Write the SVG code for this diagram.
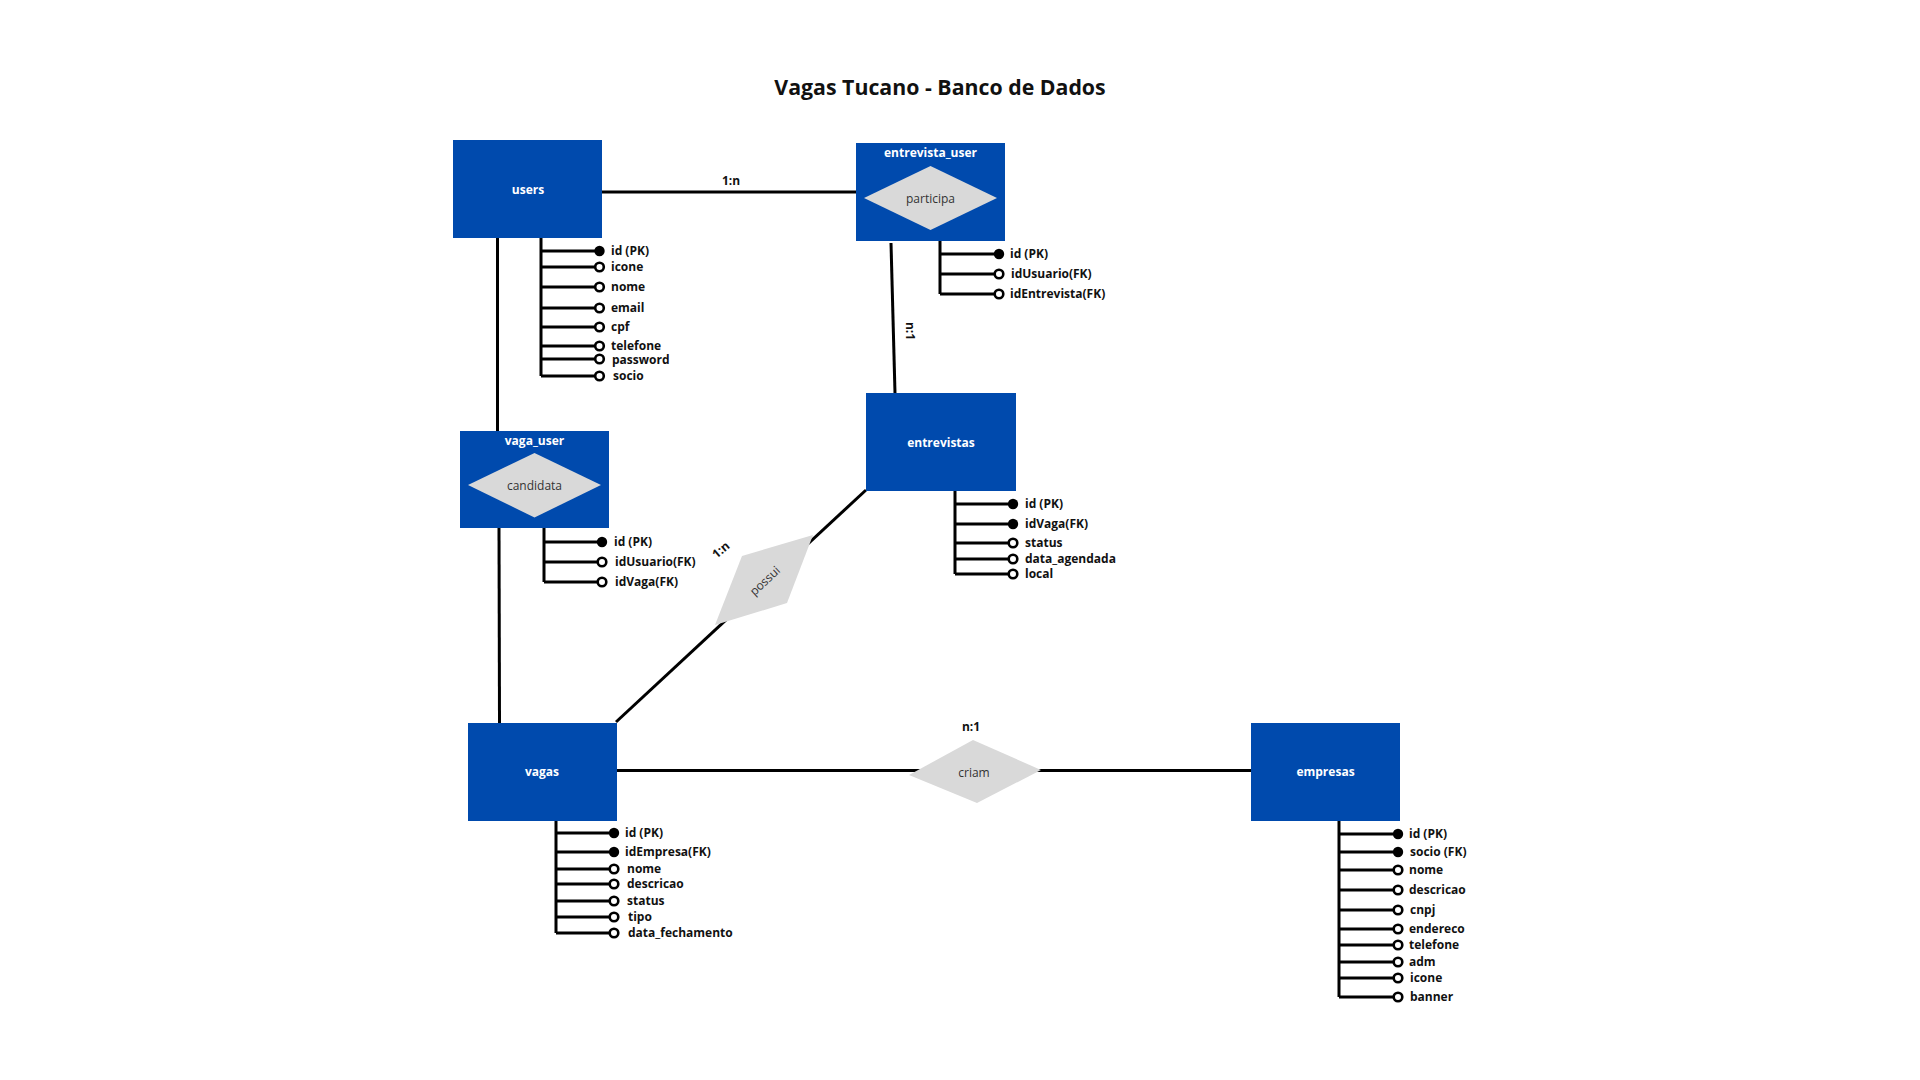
<svg xmlns="http://www.w3.org/2000/svg" width="1920" height="1080" viewBox="0 0 1920 1080">
<style>
.bg{fill:#ffffff}
.ent{fill:#004AAD}
.dia{fill:#D9D9D9}
.lbl{font-family:"Open Sans","Noto Sans","Liberation Sans",sans-serif;font-size:12px;font-weight:bold;fill:#ffffff;text-anchor:middle}
.dtx{font-family:"Open Sans","Noto Sans","Liberation Sans",sans-serif;font-size:12px;fill:#333333;text-anchor:middle}
.att{font-family:"Open Sans","Noto Sans","Liberation Sans",sans-serif;font-size:12px;font-weight:bold;fill:#111111}
.card{font-family:"Open Sans","Noto Sans","Liberation Sans",sans-serif;font-size:12px;font-weight:bold;fill:#111111;text-anchor:middle}
.title{font-family:"Open Sans","Noto Sans","Liberation Sans",sans-serif;font-size:21.3px;font-weight:bold;fill:#111111;text-anchor:middle}
.ln{stroke:#000000;stroke-width:3;fill:none}
.pk{fill:#000000}
.op{fill:#ffffff;stroke:#000000;stroke-width:2.6}
</style>
<rect class="bg" x="0" y="0" width="1920" height="1080"/>
<text class="title" x="940" y="95">Vagas Tucano - Banco de Dados</text>

<g id="connectors">
  <line class="ln" x1="602" y1="192" x2="856" y2="192"/>
  <line class="ln" x1="891" y1="243" x2="895" y2="393"/>
  <line class="ln" x1="497.5" y1="238" x2="497.5" y2="431"/>
  <line class="ln" x1="499" y1="528" x2="499.5" y2="723"/>
  <line class="ln" x1="866" y1="490" x2="616" y2="722"/>
  <line class="ln" x1="617" y1="770.5" x2="1251" y2="770.5"/>
  <text class="card" x="731" y="185">1:n</text>
  <text class="card" transform="translate(910 331) rotate(90)" x="0" y="4">n:1</text>
  <text class="card" transform="translate(721 550) rotate(-40)" x="0" y="4">1:n</text>
  <text class="card" x="971" y="731">n:1</text>
</g>

<g id="rel-possui">
  <polygon class="dia" points="813,535 787,603 715,625 742,556"/>
  <text class="dtx" transform="translate(765 581) rotate(-43)" x="0" y="4">possui</text>
</g>

<g id="rel-criam">
  <polygon class="dia" points="973,740 1041,770 977,803 909,775"/>
  <text class="dtx" x="974" y="777">criam</text>
</g>

<g id="users">
  <rect class="ent" x="453" y="140" width="149" height="98"/>
  <text class="lbl" x="528" y="194">users</text>
  <g class="attrs">
    <path class="ln" d="M541 238V376M541 251H595M541 267H595M541 287H595M541 308H595M541 327H595M541 346H595M541 359H595M541 376H595"/>
    <circle class="pk" cx="599.5" cy="251" r="5.2"/>
    <circle class="op" cx="599.5" cy="267" r="4.3"/>
    <circle class="op" cx="599.5" cy="287" r="4.3"/>
    <circle class="op" cx="599.5" cy="308" r="4.3"/>
    <circle class="op" cx="599.5" cy="327" r="4.3"/>
    <circle class="op" cx="599.5" cy="346" r="4.3"/>
    <circle class="op" cx="599.5" cy="359" r="4.3"/>
    <circle class="op" cx="599.5" cy="376" r="4.3"/>
    <text class="att" x="611" y="255">id (PK)</text>
    <text class="att" x="611" y="271">icone</text>
    <text class="att" x="611" y="291">nome</text>
    <text class="att" x="611" y="312">email</text>
    <text class="att" x="611" y="331">cpf</text>
    <text class="att" x="611" y="350">telefone</text>
    <text class="att" x="612" y="364">password</text>
    <text class="att" x="613" y="380">socio</text>
  </g>
</g>

<g id="entrevista_user">
  <rect class="ent" x="856" y="143" width="149" height="98"/>
  <text class="lbl" x="930.5" y="157">entrevista_user</text>
  <polygon class="dia" points="930.5,166 997,198 930.5,230 864,198"/>
  <text class="dtx" x="930.5" y="203">participa</text>
  <g class="attrs">
    <path class="ln" d="M940 241V294M940 254H995M940 274H995M940 294H995"/>
    <circle class="pk" cx="999" cy="254" r="5.2"/>
    <circle class="op" cx="999" cy="274" r="4.3"/>
    <circle class="op" cx="999" cy="294" r="4.3"/>
    <text class="att" x="1010" y="258">id (PK)</text>
    <text class="att" x="1011" y="278">idUsuario(FK)</text>
    <text class="att" x="1010" y="298">idEntrevista(FK)</text>
  </g>
</g>

<g id="vaga_user">
  <rect class="ent" x="460" y="431" width="149" height="97"/>
  <text class="lbl" x="534.5" y="445">vaga_user</text>
  <polygon class="dia" points="534.5,453 601,485 534.5,517.5 468,485"/>
  <text class="dtx" x="534.5" y="489.5">candidata</text>
  <g class="attrs">
    <path class="ln" d="M544 528V582M544 542H598M544 562H598M544 582H598"/>
    <circle class="pk" cx="602" cy="542" r="5.2"/>
    <circle class="op" cx="602" cy="562" r="4.3"/>
    <circle class="op" cx="602" cy="582" r="4.3"/>
    <text class="att" x="614" y="546">id (PK)</text>
    <text class="att" x="615" y="566">idUsuario(FK)</text>
    <text class="att" x="615" y="586">idVaga(FK)</text>
  </g>
</g>

<g id="entrevistas">
  <rect class="ent" x="866" y="393" width="150" height="98"/>
  <text class="lbl" x="941" y="447">entrevistas</text>
  <g class="attrs">
    <path class="ln" d="M955 491V574M955 504H1008M955 524H1008M955 543H1008M955 559H1008M955 574H1008"/>
    <circle class="pk" cx="1013" cy="504" r="5.2"/>
    <circle class="pk" cx="1013" cy="524" r="5.2"/>
    <circle class="op" cx="1013" cy="543" r="4.3"/>
    <circle class="op" cx="1013" cy="559" r="4.3"/>
    <circle class="op" cx="1013" cy="574" r="4.3"/>
    <text class="att" x="1025" y="508">id (PK)</text>
    <text class="att" x="1025" y="528">idVaga(FK)</text>
    <text class="att" x="1025" y="547">status</text>
    <text class="att" x="1025" y="563">data_agendada</text>
    <text class="att" x="1025" y="578">local</text>
  </g>
</g>

<g id="vagas">
  <rect class="ent" x="468" y="723" width="149" height="98"/>
  <text class="lbl" x="542" y="776">vagas</text>
  <g class="attrs">
    <path class="ln" d="M556 821V933M556 833H609M556 852H609M556 869H609M556 884H609M556 901H609M556 917H609M556 933H609"/>
    <circle class="pk" cx="614" cy="833" r="5.2"/>
    <circle class="pk" cx="614" cy="852" r="5.2"/>
    <circle class="op" cx="614" cy="869" r="4.3"/>
    <circle class="op" cx="614" cy="884" r="4.3"/>
    <circle class="op" cx="614" cy="901" r="4.3"/>
    <circle class="op" cx="614" cy="917" r="4.3"/>
    <circle class="op" cx="614" cy="933" r="4.3"/>
    <text class="att" x="625" y="837">id (PK)</text>
    <text class="att" x="625" y="856">idEmpresa(FK)</text>
    <text class="att" x="627" y="873">nome</text>
    <text class="att" x="627" y="888">descricao</text>
    <text class="att" x="627" y="905">status</text>
    <text class="att" x="628" y="921">tipo</text>
    <text class="att" x="628" y="937">data_fechamento</text>
  </g>
</g>

<g id="empresas">
  <rect class="ent" x="1251" y="723" width="149" height="98"/>
  <text class="lbl" x="1325.5" y="776">empresas</text>
  <g class="attrs">
    <path class="ln" d="M1339 821V997M1339 834H1393M1339 852H1393M1339 870H1393M1339 890H1393M1339 910H1393M1339 929H1393M1339 945H1393M1339 962H1393M1339 978H1393M1339 997H1393"/>
    <circle class="pk" cx="1398" cy="834" r="5.2"/>
    <circle class="pk" cx="1398" cy="852" r="5.2"/>
    <circle class="op" cx="1398" cy="870" r="4.3"/>
    <circle class="op" cx="1398" cy="890" r="4.3"/>
    <circle class="op" cx="1398" cy="910" r="4.3"/>
    <circle class="op" cx="1398" cy="929" r="4.3"/>
    <circle class="op" cx="1398" cy="945" r="4.3"/>
    <circle class="op" cx="1398" cy="962" r="4.3"/>
    <circle class="op" cx="1398" cy="978" r="4.3"/>
    <circle class="op" cx="1398" cy="997" r="4.3"/>
    <text class="att" x="1409" y="838">id (PK)</text>
    <text class="att" x="1410" y="856">socio (FK)</text>
    <text class="att" x="1409" y="874">nome</text>
    <text class="att" x="1409" y="894">descricao</text>
    <text class="att" x="1410" y="914">cnpj</text>
    <text class="att" x="1409" y="933">endereco</text>
    <text class="att" x="1409" y="949">telefone</text>
    <text class="att" x="1409" y="966">adm</text>
    <text class="att" x="1410" y="982">icone</text>
    <text class="att" x="1410" y="1001">banner</text>
  </g>
</g>
</svg>
